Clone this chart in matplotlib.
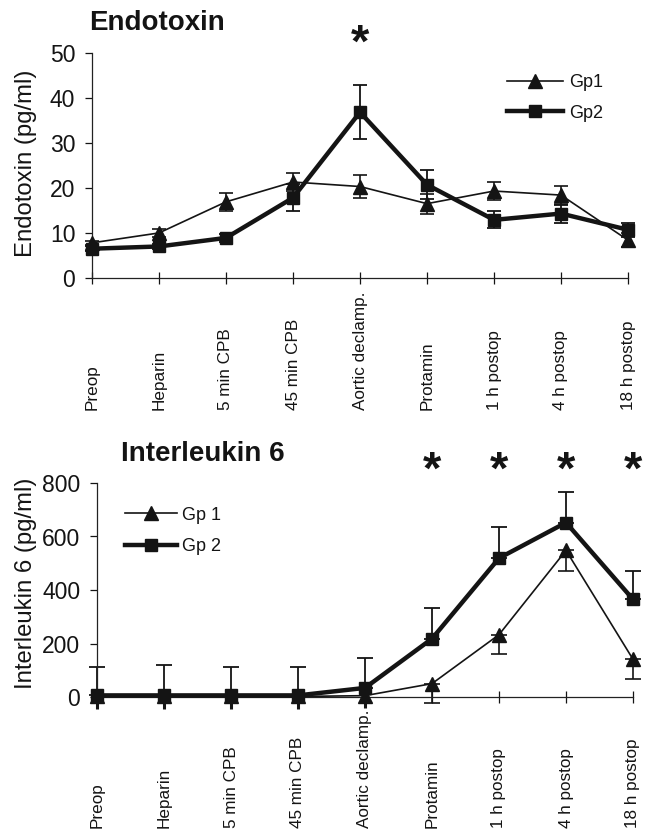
import numpy as np
import matplotlib
matplotlib.use("Agg")
import matplotlib.pyplot as plt
import matplotlib.transforms as mtransforms

plt.rcParams['font.family'] = ['Liberation Sans', 'DejaVu Sans']

categories = ["Preop", "Heparin", "5 min CPB", "45 min CPB", "Aortic declamp.",
              "Protamin", "1 h postop", "4 h postop", "18 h postop"]

# Endotoxin (pg/ml)
endo_gp1 = [7.8, 10.0, 16.9, 21.3, 20.3, 16.5, 19.3, 18.4, 8.4]
endo_gp1_err = [0.5, 0.8, 2.0, 2.0, 2.6, 2.2, 1.9, 2.0, 1.5]
endo_gp2 = [6.5, 7.0, 8.9, 17.8, 36.8, 20.7, 12.9, 14.3, 10.7]
endo_gp2_err = [0.5, 0.5, 0.8, 3.0, 6.0, 3.2, 1.9, 2.0, 1.5]
endo_ticks = [0, 10, 20, 30, 40, 50]
endo_star_idx = [4]

# Interleukin 6 (pg/ml)
il6_gp1 = [2, 2, 2, 2, 5, 50, 233, 548, 141]
il6_gp1_err = [45, 45, 45, 45, 45, 71, 73, 76, 72]
il6_gp2 = [6, 6, 6, 6, 34, 218, 519, 652, 365]
il6_gp2_err = [105, 112, 105, 105, 110, 114, 117, 116, 107]
il6_ticks = [0, 200, 400, 600, 800]
il6_star_idx = [5, 6, 7, 8]

C = '#141414'
W, H = 658, 830
fig = plt.figure(figsize=(W / 100, H / 100), dpi=100)

def fx(px):
    return px / W

def fy(py):
    return 1 - py / H

def make_axes(left, right, top, bottom):
    return fig.add_axes([fx(left), fy(bottom), fx(right) - fx(left), fy(top) - fy(bottom)])

def style_axes(ax, yticks, ymax, label_bottom, ylabel, ylabel_x, ylabel_y):
    x = np.arange(len(categories))
    ax.set_xlim(0, len(categories) - 1)
    ax.set_ylim(0, ymax)
    ax.set_yticks(yticks)
    ax.set_yticklabels([str(t) for t in yticks], fontsize=16.5)
    ax.set_xticks(x)
    ax.set_xticklabels([])
    for s in ['top', 'right']:
        ax.spines[s].set_visible(False)
    for s in ['left', 'bottom']:
        ax.spines[s].set_color('#222222')
        ax.spines[s].set_linewidth(0.9)
    ax.tick_params(axis='y', direction='out', length=5, width=0.9, pad=7, colors=C)
    ax.tick_params(axis='x', direction='inout', length=9, width=0.9, colors=C)
    trans = mtransforms.blended_transform_factory(ax.transData, ax.transAxes)
    for i, lab in enumerate(categories):
        ax.text(i, label_bottom, lab, rotation=90, ha='center', va='bottom',
                fontsize=12.3, color=C, transform=trans)
    ax.set_ylabel(ylabel, fontsize=17.2, color=C)
    ax.yaxis.set_label_coords(ylabel_x, ylabel_y)
    return x

# ---------------- Endotoxin ----------------
ax1 = make_axes(92, 628, 52.7, 278)
x = style_axes(ax1, endo_ticks, 50, -0.585, "Endotoxin (pg/ml)", -0.103, 0.51)
ax1.errorbar(x, endo_gp1, yerr=endo_gp1_err, fmt='none', ecolor=C, elinewidth=1.2,
             capsize=5, capthick=1.2, zorder=2, clip_on=False)
ax1.errorbar(x, endo_gp2, yerr=endo_gp2_err, fmt='none', ecolor=C, elinewidth=1.3,
             capsize=5, capthick=1.3, zorder=2, clip_on=False)
ax1.plot(x, endo_gp1, color=C, lw=1.2, marker='^', ms=10, mec=C, mfc=C,
         label='Gp1', zorder=3, clip_on=False)
ax1.plot(x, endo_gp2, color=C, lw=3.2, marker='s', ms=8.5, mec=C, mfc=C,
         label='Gp2', zorder=4, clip_on=False)
for i in endo_star_idx:
    ax1.text(i, 51.8, '*', ha='center', va='center', fontsize=34,
             fontweight='bold', color=C, clip_on=False)
ax1.text(-0.005, 1.075, "Endotoxin", transform=ax1.transAxes, fontsize=20,
         fontweight='bold', color=C, ha='left', va='bottom')
leg1 = ax1.legend(loc='upper left', bbox_to_anchor=(0.774, 0.905), frameon=False,
                  fontsize=13, handlelength=3.1, handletextpad=0.35,
                  labelspacing=0.75, borderpad=0, borderaxespad=0)
for t in leg1.get_texts():
    t.set_color(C)

# ---------------- Interleukin 6 ----------------
ax2 = make_axes(97, 633, 483, 697)
x = style_axes(ax2, il6_ticks, 800, -0.612, "Interleukin 6 (pg/ml)", -0.112, 0.53)
n_low = 5
zeros = np.zeros(len(categories))
g1e = np.array(il6_gp1_err, dtype=float)
g1 = np.array(il6_gp1, dtype=float)
ax2.errorbar(x[:n_low], g1[:n_low], yerr=[g1e[:n_low], zeros[:n_low]], fmt='none',
             ecolor=C, elinewidth=2.2, capsize=0, zorder=2, clip_on=False)
ax2.errorbar(x[n_low:], g1[n_low:], yerr=[g1e[n_low:], zeros[n_low:]], fmt='none',
             ecolor=C, elinewidth=1.2, capsize=5.5, capthick=1.2, zorder=2, clip_on=False)
ax2.errorbar(x, il6_gp2, yerr=[zeros, il6_gp2_err], fmt='none', ecolor=C,
             elinewidth=1.3, capsize=5.5, capthick=1.3, zorder=2, clip_on=False)
ax2.plot(x, il6_gp1, color=C, lw=1.2, marker='^', ms=10, mec=C, mfc=C,
         label='Gp 1', zorder=3, clip_on=False)
ax2.plot(x, il6_gp2, color=C, lw=3.2, marker='s', ms=8.5, mec=C, mfc=C,
         label='Gp 2', zorder=4, clip_on=False)
for i in il6_star_idx:
    ax2.text(i, 842, '*', ha='center', va='center', fontsize=34,
             fontweight='bold', color=C, clip_on=False)
ax2.text(0.045, 1.075, "Interleukin 6", transform=ax2.transAxes, fontsize=20,
         fontweight='bold', color=C, ha='left', va='bottom')
leg2 = ax2.legend(loc='upper left', bbox_to_anchor=(0.052, 0.89), frameon=False,
                  fontsize=13, handlelength=2.9, handletextpad=0.25,
                  labelspacing=0.8, borderpad=0, borderaxespad=0)
for t in leg2.get_texts():
    t.set_color(C)

fig.savefig("out.png", dpi=100)
